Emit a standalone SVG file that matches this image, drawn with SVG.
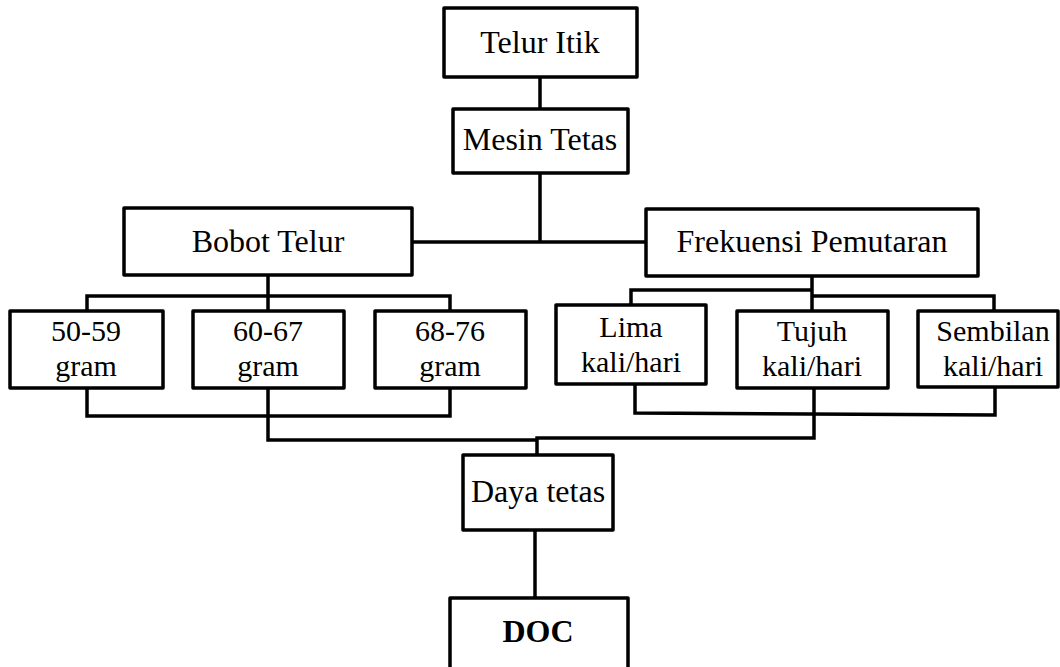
<svg xmlns="http://www.w3.org/2000/svg" width="1060" height="667" viewBox="0 0 1060 667">
<style>
.box{fill:#fff;stroke:#000;stroke-width:3.5;stroke-linejoin:round}
.t{font-family:"Liberation Serif","Times New Roman",serif;font-size:32px;fill:#000;text-anchor:middle}
.s{font-size:30px}
.b{font-weight:bold}
.c{fill:none;stroke:#000;stroke-width:3.5;stroke-linejoin:miter;stroke-linecap:square}
</style>
<rect width="1060" height="667" fill="#fff"/>
<g id="connectors">
<path class="c" d="M540 77V109M540 173V242M412 242H646"/>
<path class="c" d="M268 275V296M87 296H450M87 296V311M268 296V311M450 296V311"/>
<path class="c" d="M87 388V416H450V388"/>
<path class="c" d="M812 276V311M631 290H812M631 290V305M812 296H994V311"/>
<path class="c" d="M635 384V413L995 415V387"/>
<path class="c" d="M268 388V440H537M537 438H814V388M537 438V455"/>
<path class="c" d="M535 530V598"/>
</g>
<g id="telur-itik"><rect class="box" x="444" y="8" width="193" height="69"/><text class="t" x="540" y="53">Telur Itik</text></g>
<g id="mesin-tetas"><rect class="box" x="453" y="109" width="175" height="64"/><text class="t" x="540" y="150">Mesin Tetas</text></g>
<g id="bobot-telur"><rect class="box" x="124" y="208" width="288" height="67"/><text class="t" x="268" y="252">Bobot Telur</text></g>
<g id="frekuensi"><rect class="box" x="646" y="209" width="332" height="67"/><text class="t" x="812" y="252">Frekuensi Pemutaran</text></g>
<g id="b50"><rect class="box" x="10" y="311" width="153" height="77"/><text class="t s" x="86" y="341">50-59</text><text class="t s" x="86" y="376">gram</text></g>
<g id="b60"><rect class="box" x="193" y="311" width="151" height="77"/><text class="t s" x="268" y="341">60-67</text><text class="t s" x="268" y="376">gram</text></g>
<g id="b68"><rect class="box" x="375" y="311" width="151" height="77"/><text class="t s" x="450" y="341">68-76</text><text class="t s" x="450" y="376">gram</text></g>
<g id="lima"><rect class="box" x="556" y="305" width="150" height="79"/><text class="t s" x="631" y="337">Lima</text><text class="t s" x="631" y="372">kali/hari</text></g>
<g id="tujuh"><rect class="box" x="737" y="311" width="151" height="77"/><text class="t s" x="812" y="341">Tujuh</text><text class="t s" x="812" y="376">kali/hari</text></g>
<g id="sembilan"><rect class="box" x="918" y="311" width="140" height="76"/><text class="t s" x="993" y="341">Sembilan</text><text class="t s" x="993" y="376">kali/hari</text></g>
<g id="daya-tetas"><rect class="box" x="463" y="455" width="150" height="75"/><text class="t" x="538" y="502">Daya tetas</text></g>
<g id="doc"><rect class="box" x="450" y="598" width="178" height="90"/><text class="t b" x="538" y="642">DOC</text></g>
</svg>
